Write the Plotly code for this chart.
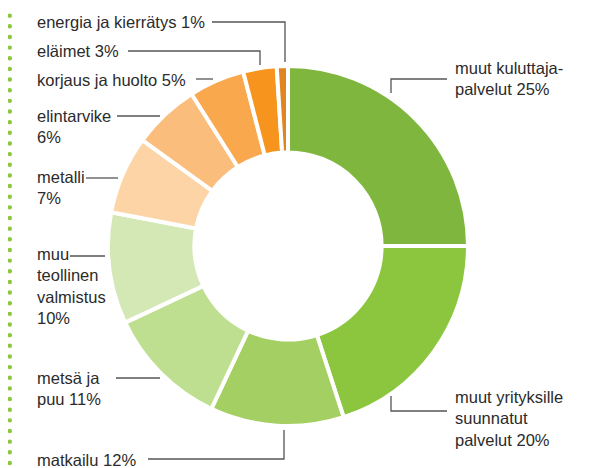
import plotly.graph_objects as go

# The page body adds an 8px margin, so the figure is drawn 8px in; pixel
# positions below are given in window pixels and shifted back by OFF.
OFF = 8
W, H = 584, 460

categories = ["muut kuluttaja-palvelut", "muut yrityksille suunnatut palvelut", "matkailu",
              "metsä ja puu", "muu teollinen valmistus", "metalli", "elintarvike",
              "korjaus ja huolto", "eläimet", "energia ja kierrätys"]
values = [25, 20, 12, 11, 10, 7, 6, 5, 3, 1]
colors = ["#7fb63d", "#8cc63f", "#a4cf62", "#bddf8f", "#d3e8b5",
          "#fdd4a5", "#fabd7c", "#f9a84e", "#f7941e", "#e0851f"]
label_texts = ["muut kuluttaja-<br>palvelut 25%",
               "muut yrityksille<br>suunnatut<br>palvelut 20%",
               "matkailu 12%",
               "metsä ja<br>puu 11%",
               "muu<br>teollinen<br>valmistus<br>10%",
               "metalli<br>7%",
               "elintarvike<br>6%",
               "korjaus ja huolto 5%",
               "eläimet 3%",
               "energia ja kierrätys 1%"]

# label positions (window pixels): x left, y center of block
label_pos = [(453, 78), (453, 418), (35, 460), (35, 388), (35, 286),
             (35, 188), (35, 127), (35, 80), (35, 51), (35, 22)]
# leader line paths (window pixels)
leaders = [
    [(447, 79), (391, 79), (391, 93)],
    [(447, 411), (391, 411), (391, 396)],
    [(148, 459), (284, 459), (284, 430)],
    [(116, 378), (160, 378)],
    [(70, 256), (105, 256)],
    [(86, 178), (118, 178)],
    [(117, 116), (160, 116)],
    [(196, 79), (213, 79)],
    [(128, 51), (260, 51), (260, 65)],
    [(212, 22), (285, 22), (285, 62)],
]

cx, cy, R = 288, 246, 180

def px(x):
    return (x - OFF) / W

def py(y):
    return 1 - (y - OFF) / H

fig = go.Figure(go.Pie(
    labels=categories, values=values, sort=False, direction="clockwise",
    rotation=0, hole=0.52, textinfo="none", hoverinfo="none",
    marker=dict(colors=colors, line=dict(color="white", width=4)),
    domain=dict(x=[px(cx - R), px(cx + R)], y=[py(cy + R), py(cy - R)]),
    showlegend=False,
))

annotations = []
for t, (x, y) in zip(label_texts, label_pos):
    annotations.append(dict(text=t, x=px(x), y=py(y), xref="paper", yref="paper",
                            xanchor="left", yanchor="middle", align="left",
                            showarrow=False,
                            font=dict(family="Liberation Sans, Arial", size=16.5, color="#2b2b2b")))

shapes = []
for path in leaders:
    d = "M " + " L ".join(f"{px(x)},{py(y)}" for x, y in path)
    shapes.append(dict(type="path", path=d, xref="paper", yref="paper",
                       line=dict(color="#555555", width=1.3)))

# dotted green decorative line at the left (round dots)
for i in range(44):
    yc = 5 + i * 10.65
    shapes.append(dict(type="circle", xref="paper", yref="paper",
                       x0=px(7.6), x1=px(12.0), y0=py(yc + 2.2), y1=py(yc - 2.2),
                       fillcolor="#8cc63f", line=dict(width=0)))

fig.update_layout(width=W, height=H, margin=dict(l=0, r=0, t=0, b=0),
                  paper_bgcolor="white", plot_bgcolor="white",
                  annotations=annotations, shapes=shapes)

fig.write_html("out.html")
